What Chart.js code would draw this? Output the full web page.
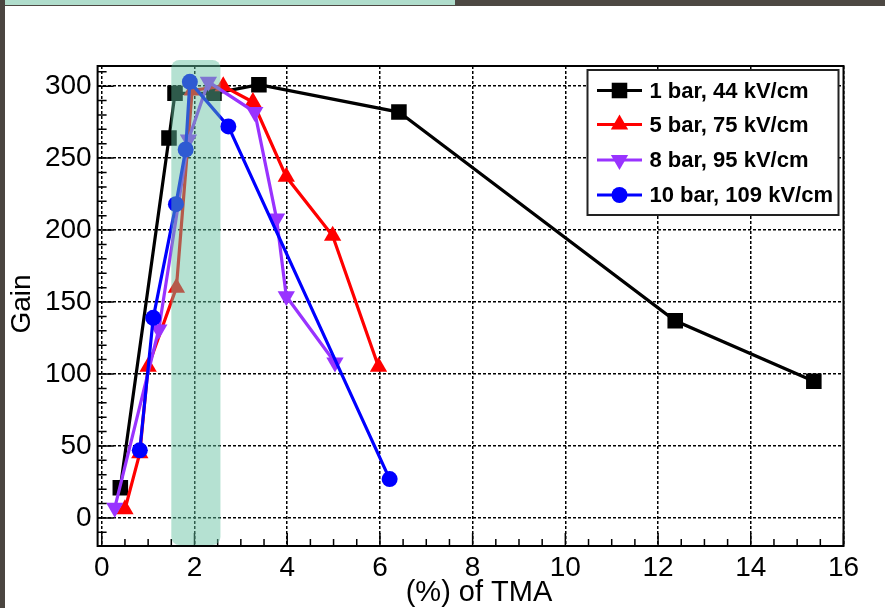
<!DOCTYPE html>
<html>
<head>
<meta charset="utf-8">
<script src="https://cdn.jsdelivr.net/npm/chart.js@4/dist/chart.umd.min.js"></script>
<style>
  html, body { margin: 0; padding: 0; background: #fff; }
  #wrap { position: relative; width: 885px; height: 608px; overflow: hidden; background: #fff; }
  #c { position: absolute; left: 0; top: 0; }
  .bar-top { position: absolute; left: 0; top: 0; width: 885px; height: 6px; background: #4d4843; }
  .bar-top-hi { position: absolute; left: 5px; top: 0; width: 450px; height: 5px; background: #b0ddcc; }
  .bar-left { position: absolute; left: 0; top: 0; width: 5px; height: 608px; background: #4a4540; }
</style>
</head>
<body>
<div id="wrap">
  <canvas id="c" width="885" height="608"></canvas>
  <div class="bar-top"></div>
  <div class="bar-top-hi"></div>
  <div class="bar-left"></div>
</div>
<script>
// --- datos ---
const seriesLabels = ['1 bar, 44 kV/cm', '5 bar, 75 kV/cm', '8 bar, 95 kV/cm', '10 bar, 109 kV/cm'];

const tma1 = [0.4, 1.45, 1.58, 2.42, 3.39, 6.41, 12.37, 15.36];
const gain1 = [21, 264, 295, 295, 301, 282, 137, 95];

const tma5 = [0.5, 0.82, 1.0, 1.61, 1.95, 2.62, 3.26, 3.98, 4.98, 5.97];
const gain5 = [6, 45, 105, 160, 297, 300, 289, 237, 196, 105];

const tma8 = [0.28, 1.23, 1.87, 2.3, 3.3, 3.77, 3.98, 5.03];
const gain8 = [7, 131, 263, 303, 282, 208, 154, 108];

const tma10 = [0.82, 1.11, 1.6, 1.81, 1.9, 2.73, 6.21];
const gain10 = [47, 139, 218, 256, 303, 272, 27];

const xTicks = [0, 2, 4, 6, 8, 10, 12, 14, 16];
const yTicks = [0, 50, 100, 150, 200, 250, 300];
const bandRange = [1.5, 2.56];

const colores = ['#000000', '#ff0000', '#9933ff', '#0000ff'];
const estilos = [
  { pointStyle: 'rect', radius: 11, rotation: 0 },
  { pointStyle: 'triangle', radius: 10, rotation: 0 },
  { pointStyle: 'triangle', radius: 10, rotation: 180 },
  { pointStyle: 'circle', radius: 8, rotation: 0 }
];

const FONT = "'Liberation Sans', Arial, Helvetica, sans-serif";

function toPoints(xs, ys) {
  return xs.map((x, i) => ({ x: x, y: ys[i] }));
}

const allX = [tma1, tma5, tma8, tma10];
const allY = [gain1, gain5, gain8, gain10];

const datasets = seriesLabels.map((lab, i) => ({
  label: lab,
  data: toPoints(allX[i], allY[i]),
  borderColor: colores[i],
  backgroundColor: colores[i],
  pointBackgroundColor: colores[i],
  pointBorderColor: colores[i],
  pointBorderWidth: 0,
  borderWidth: 3.2,
  pointStyle: estilos[i].pointStyle,
  pointRadius: estilos[i].radius,
  pointRotation: estilos[i].rotation,
  tension: 0,
  order: 3 - i
}));

// --- marco, ticks menores, leyenda, banda y títulos ---
const decoPlugin = {
  id: 'deco',
  afterDatasetsDraw(chart) {
    const { ctx, chartArea: a, scales } = chart;
    const xs = scales.x, ys = scales.y;
    ctx.save();
    ctx.strokeStyle = '#000';
    ctx.lineWidth = 1.5;
    ctx.beginPath();
    // ticks eje x
    for (let v = 0; v <= 16.001; v += 0.5) {
      const px = xs.getPixelForValue(v);
      const major = Math.abs(v / 2 - Math.round(v / 2)) < 1e-6;
      ctx.moveTo(px, a.bottom);
      ctx.lineTo(px, a.bottom - (major ? 13 : 7));
    }
    // ticks eje y
    for (let v = -10; v <= 310; v += 10) {
      const py = ys.getPixelForValue(v);
      const major = v % 50 === 0;
      ctx.moveTo(a.left, py);
      ctx.lineTo(a.left + (major ? 16 : 9), py);
    }
    ctx.stroke();
    ctx.lineWidth = 2;
    ctx.strokeRect(a.left, a.top, a.right - a.left, a.bottom - a.top);
    ctx.restore();
  },
  afterDraw(chart) {
    const { ctx, chartArea: a, scales } = chart;
    const xs = scales.x;
    ctx.save();

    // leyenda
    const lx = 587.5, ly = 70, lw = 251, lh = 145;
    ctx.fillStyle = '#fff';
    ctx.fillRect(lx, ly, lw, lh);
    ctx.strokeStyle = '#222';
    ctx.lineWidth = 2;
    ctx.strokeRect(lx, ly, lw, lh);
    const rows = [90.5, 124.5, 160, 195];
    ctx.font = 'bold 22px ' + FONT;
    ctx.textBaseline = 'middle';
    ctx.textAlign = 'left';
    chart.data.datasets.forEach((ds, i) => {
      const y = rows[i];
      ctx.strokeStyle = ds.borderColor;
      ctx.lineWidth = 3;
      ctx.beginPath();
      ctx.moveTo(597, y);
      ctx.lineTo(642, y);
      ctx.stroke();
      ctx.fillStyle = ds.backgroundColor;
      Chart.helpers.drawPoint(ctx, {
        pointStyle: ds.pointStyle, radius: ds.pointRadius,
        rotation: ds.pointRotation, borderWidth: 0
      }, 619.5, y);
      ctx.fillStyle = '#000';
      ctx.fillText(ds.label, 649.5, y + 1);
    });

    // títulos de ejes
    ctx.fillStyle = '#000';
    ctx.font = '29px ' + FONT;
    ctx.textAlign = 'center';
    ctx.textBaseline = 'middle';
    ctx.fillText('(%) of TMA', 479, 593);
    ctx.save();
    ctx.translate(22, 304);
    ctx.rotate(-Math.PI / 2);
    ctx.font = '28px ' + FONT;
    ctx.fillText('Gain', 0, 0);
    ctx.restore();

    // banda resaltada
    const bx0 = xs.getPixelForValue(bandRange[0]);
    const bx1 = xs.getPixelForValue(bandRange[1]);
    const by0 = a.top - 6, by1 = a.bottom - 1;
    ctx.fillStyle = 'rgba(98, 192, 160, 0.47)';
    ctx.beginPath();
    ctx.roundRect(bx0, by0, bx1 - bx0, by1 - by0, 8);
    ctx.fill();

    ctx.restore();
  }
};

new Chart(document.getElementById('c'), {
  type: 'line',
  data: { datasets: datasets },
  options: {
    responsive: false,
    animation: false,
    events: [],
    layout: { padding: { top: 66, right: 41.5, left: 0, bottom: 0 } },
    plugins: { legend: { display: false }, tooltip: { enabled: false } },
    scales: {
      x: {
        type: 'linear',
        min: -0.09,
        max: 16,
        afterBuildTicks: s => { s.ticks = xTicks.map(v => ({ value: v })); },
        afterFit: s => { s.height = 62; },
        ticks: { color: '#000', font: { family: FONT, size: 28 }, padding: 5, maxRotation: 0 },
        grid: { color: '#000', lineWidth: 1.5, drawTicks: false },
        border: { display: false, dash: [3, 2] }
      },
      y: {
        type: 'linear',
        min: -19.5,
        max: 314,
        afterBuildTicks: s => { s.ticks = yTicks.map(v => ({ value: v })); },
        afterFit: s => { s.width = 97.6; },
        ticks: { color: '#000', font: { family: FONT, size: 28 }, padding: 6 },
        grid: { color: '#000', lineWidth: 1.5, drawTicks: false },
        border: { display: false, dash: [3, 2] }
      }
    }
  },
  plugins: [decoPlugin]
});
</script>
</body>
</html>
